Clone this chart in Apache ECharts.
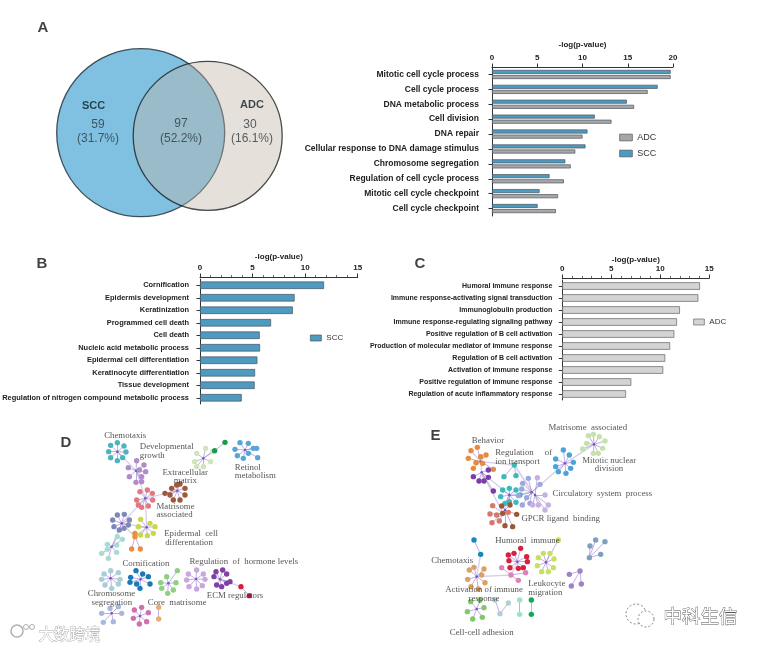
<!DOCTYPE html>
<html><head><meta charset="utf-8">
<style>html,body{margin:0;padding:0;background:#fff}#c{width:762px;height:649px;filter:blur(0.45px)}</style>
<script src="https://cdn.jsdelivr.net/npm/echarts@6/dist/echarts.min.js"></script>
</head><body><div id="c"></div>
<script>
// Panel A: bars
const categoriesA = ['Mitotic cell cycle process','Cell cycle process','DNA metabolic process','Cell division','DNA repair','Cellular response to DNA damage stimulus','Chromosome segregation','Regulation of cell cycle process','Mitotic cell cycle checkpoint','Cell cycle checkpoint'];
const sccA = [19.74,18.3,14.9,11.36,10.55,10.33,8.1,6.36,5.26,5.04];
const adcA = [19.74,17.2,15.7,13.2,10.0,9.2,8.7,7.94,7.3,7.06];
// Panel B
const categoriesB = ['Cornification','Epidermis development','Keratinization','Programmed cell death','Cell death','Nucleic acid metabolic process','Epidermal cell differentiation','Keratinocyte differentiation','Tissue development','Regulation of nitrogen compound metabolic process'];
const sccB = [11.8,9.0,8.83,6.76,5.68,5.71,5.46,5.24,5.2,3.97];
// Panel C
const categoriesC = ['Humoral immune response','Immune response-activating signal transduction','Immunoglobulin production','Immune response-regulating signaling pathway','Positive regulation of B cell activation','Production of molecular mediator of immune response','Regulation of B cell activation','Activation of immune response','Positive regulation of immune response','Regulation of acute inflammatory response'];
const adcC = [14.05,13.88,12.0,11.7,11.43,11.0,10.5,10.3,7.04,6.5];
// Venn
const vennCounts = ['59','97','30'];
const vennShares = ['(31.7%)','(52.2%)','(16.1%)'];
const vennSets = ['SCC','ADC'];

// Network D: layout readings, hub first
const chemotaxisD=[[352,95],[352,68],[332,76],[372,78],[326,95],[378,96],[332,113],[352,122],[368,113]];
const growthD=[[408,152],[410,122],[385,143],[432,135],[388,170],[408,187],[425,170],[437,155],[418,150],[425,185]];
const paleGreenD=[[610,115],[617,85],[590,100],[638,95],[584,125],[590,140],[610,140],[632,125]];
const retinolD=[[735,90],[720,68],[745,70],[705,88],[760,85],[712,107],[745,100],[730,115],[770,85],[773,113]];
const matrixD=[[532,212],[515,205],[540,192],[555,205],[555,225],[540,240],[520,240],[495,220],[510,225],[530,195]];
const matrisomeD=[[436,235],[420,215],[442,210],[457,220],[458,240],[445,258],[425,262],[410,240],[415,255]];
const slateD=[[365,310],[352,285],[373,283],[338,300],[342,320],[358,330],[385,315],[388,300],[372,325]];
const epidermalD=[[440,322],[422,298],[450,310],[465,320],[460,340],[442,347],[422,345],[415,320]];
const orangeD=[[405,350],[405,340],[395,387],[421,387]];
const paleTealD=[[335,380],[352,350],[367,358],[322,373],[350,375],[350,397],[322,388],[305,400],[325,415]];
const chromosomeD=[[332,475],[332,452],[312,462],[355,458],[305,478],[360,478],[315,495],[335,505],[355,492]];
const cornificationD=[[422,478],[408,452],[428,462],[392,472],[445,470],[390,487],[410,492],[450,492],[420,505]];
const greenD=[[505,490],[532,452],[500,470],[482,488],[528,488],[485,505],[503,520],[520,510]];
const lilacD=[[588,477],[590,450],[565,462],[610,462],[560,480],[615,478],[567,500],[590,507],[607,497]];
const hormoneD=[[660,478],[648,455],[668,450],[680,462],[642,470],[690,485],[650,495],[665,500],[680,490]];
const redD=[[723,500],[748,527]];
const periwinkleD=[[335,580],[330,565],[355,560],[305,580],[365,580],[310,607],[340,605]];
const magentaD=[[420,588],[425,562],[403,570],[445,578],[400,595],[418,612],[440,605]];
const sandD=[[476,562],[476,597]];
const darkGreenD=[[644,92],[675,67]];
const colorsD=['#4fb3bf','#b08cc8','#cfe3bd','#5aa5d8','#a0583a','#e07a80','#7f88b8','#c8d84a','#e89040','#a8dcd0','#a8cfd8','#1a7ab8','#8fd080','#c8a8e0','#8040a8','#d0203c','#a8b8e0','#d070b0','#e8b070','#1a9a50'];
const bridgesD=[[0,1],[1,5],[5,4],[5,6],[5,7],[6,7],[6,9],[7,8],[6,8],[2,19],[14,15]];
const labelsD=[['Chemotaxis',311,48],['Developmental',418,80],['growth',418,107],['Extracellular',486,157],['matrix',520,183],['Retinol',703,142],['metabolism',703,168],['Matrisome',468,259],['associated',468,285],['Epidermal  cell',491,341],['differentation',494,367],['Cornification',366,431],['Regulation  of  hormone levels',567,426],['Chromosome',262,520],['segregation',273,547],['Core  matrisome',442,548],['ECM regulators',619,528]];

// Network E
const matrisomeE=[[552,88],[535,62],[550,58],[568,65],[585,78],[530,85],[578,100],[550,115],[565,115],[518,102]];
const mitoticE=[[465,145],[460,105],[478,120],[437,132],[490,142],[437,155],[482,160],[445,170],[468,175]];
const behaviorE=[[212,140],[202,97],[183,107],[228,120],[175,130],[218,145],[190,160],[198,143],[212,125],[250,163]];
const violetE=[[215,172],[190,185],[235,165],[207,198],[235,187],[222,198],[250,228]];
const ionE=[[313,150],[282,185],[318,182]];
const tealE=[[298,240],[278,225],[298,220],[318,225],[272,245],[318,262],[298,260],[285,265],[330,240]];
const circulatoryE=[[365,232],[338,205],[355,190],[390,208],[325,242],[337,270],[360,265],[335,222],[350,248]];
const lilacE=[[375,240],[382,188],[405,240],[415,270],[385,270],[368,270],[405,285]];
const salmonE=[[280,295],[248,272],[240,297],[260,300],[246,323],[268,318],[295,292]];
const brownE=[[285,285],[275,273],[300,270],[320,298],[285,332],[308,335],[278,295]];
const chemoBlueE=[[212,418],[192,375]];
const humoralE=[[322,440],[312,415],[332,400],[295,420],[350,425],[297,437],[352,440],[300,458],[325,460],[340,458]];
const pinkE=[[303,480],[275,458],[347,473],[325,496]];
const leukocyteE=[[408,442],[400,415],[420,415],[385,428],[432,432],[382,452],[430,458],[395,470],[415,470],[445,375]];
const activationE=[[200,485],[192,457],[178,465],[222,462],[173,493],[225,503],[183,515],[205,522],[215,480]];
const adhesionE=[[200,582],[182,560],[210,555],[222,578],[172,590],[188,612],[217,607]];
const paleBlueE=[[270,596],[295,564],[255,555]];
const paleTealE=[[329,555],[329,598]];
const greenE=[[364,555],[364,598]];
const slateE=[[538,428],[540,393],[557,375],[585,380],[572,418]];
const lavenderE=[[510,468],[478,478],[484,513],[514,507]];
const colorsE=['#c4e2ae','#4ca3d8','#e88a3c','#7a3ca8','#3fb8b8','#3cb8c0','#9aa8e0','#c8b0e0','#d87868','#9a5a38','#1088c0','#d82040','#e080b8','#c8e060','#dca060','#80c868','#b0d0d8','#a0e0d0','#10a860','#7f9fc0','#a080c8'];
const bridgesE=[[0,1],[1,6],[2,3],[3,5],[2,4],[4,6],[4,7],[5,6],[5,8],[8,9],[6,7],[10,14],[14,12],[12,11],[3,8]];
const labelsE=[['Matrisome  associated',414,37],['Behavior',184,77],['Regulation     of',254,112],['ion transport',254,139],['Mitotic nuclear',515,136],['division',553,162],['Circulatory  system  process',426,236],['GPCR ligand  binding',333,312],['Humoral  immune',254,376],['Chemotaxis',62,437],['Leukocyte',353,505],['migration',353,532],['Activation of immune',104,523],['response',174,550],['Cell-cell adhesion',118,654]];

const clustersD=[chemotaxisD,growthD,paleGreenD,retinolD,matrixD,matrisomeD,slateD,epidermalD,orangeD,paleTealD,chromosomeD,cornificationD,greenD,lilacD,hormoneD,redD,periwinkleD,magentaD,sandD,darkGreenD];
const clustersE=[matrisomeE,mitoticE,behaviorE,violetE,ionE,tealE,circulatoryE,lilacE,salmonE,brownE,chemoBlueE,humoralE,pinkE,leukocyteE,activationE,adhesionE,paleBlueE,paleTealE,greenE,slateE,lavenderE];

function network(clusters,colors,bridges,axis){
  const data=[],links=[],hubs=[];
  clusters.forEach((pts,c)=>{
    const hub=data.length; hubs.push(hub);
    pts.forEach((p,i)=>{
      const isHub=i===0&&pts.length>5;
      data.push({value:p,symbolSize:isHub?2.5:5.4,itemStyle:{color:isHub?'#7a55b8':colors[c],opacity:1}});
      if(i>0)links.push({source:hub,target:hub+i,lineStyle:{color:'#9a80d4',width:0.7,opacity:.9}});
    });
  });
  bridges.forEach(b=>links.unshift({source:hubs[b[0]],target:hubs[b[1]],lineStyle:{color:'#d6d0ea',width:1.3,opacity:1}}));
  return {type:'graph',coordinateSystem:'cartesian2d',xAxisIndex:axis,yAxisIndex:axis,data,links,silent:true,animation:false,roam:false,label:{show:false},edgeSymbol:['none','none'],z:3};
}
function textMarks(rows,axis,font){
  return {type:'scatter',xAxisIndex:axis,yAxisIndex:axis,silent:true,animation:false,symbolSize:1,z:6,itemStyle:{color:'transparent'},
    data:rows.map(r=>({name:r[0],value:[r[1],r[2]]})),
    label:Object.assign({show:true,position:'right',distance:0,formatter:p=>p.name,color:'#222'},font)};
}
const hidden=(i,max,inv)=>({gridIndex:i,type:'value',show:false,min:0,max:max,inverse:!!inv,splitLine:{show:false}});
const serif={fontFamily:'Liberation Serif',fontSize:8.8,color:'#2a2a2a'};
const sans='Liberation Sans';
function xAx(g,max,interval,gap,minor,offset){
  return {gridIndex:g,type:'value',position:'top',min:0,max,interval,offset:offset||0,
    name:'-log(p-value)',nameLocation:'middle',nameGap:gap,nameTextStyle:{fontFamily:sans,fontSize:8,fontWeight:'bold',color:'#222'},
    axisLine:{show:true,lineStyle:{color:'#333',width:1}},axisTick:{show:true,length:3.5,lineStyle:{color:'#333',width:1}},
    minorTick:{show:minor,splitNumber:5,length:2,lineStyle:{color:'#444',width:.8}},
    axisLabel:{fontFamily:sans,fontSize:8,fontWeight:'bold',color:'#222',margin:5},splitLine:{show:false}};
}
function yAx(g,cats,margin,fs){
  return {gridIndex:g,type:'category',inverse:true,data:cats,
    axisLine:{show:true,onZero:false,lineStyle:{color:'#333',width:1}},axisTick:{show:true,length:3.5,alignWithLabel:true,lineStyle:{color:'#333',width:1}},
    axisLabel:{fontFamily:sans,fontSize:fs,fontWeight:'bold',color:'#222',margin,interval:0}};
}
const bar=(name,data,g,color,w,gap)=>({type:'bar',name,data,xAxisIndex:g,yAxisIndex:g,barWidth:w,barGap:gap,silent:true,animation:false,
  itemStyle:{color,borderColor:'#4d5560',borderWidth:.7}});

const vennMarks={type:'scatter',xAxisIndex:0,yAxisIndex:0,silent:true,animation:false,z:2,
  data:[
    {value:[140.7,132.7],symbolSize:168,itemStyle:{color:'#60b2d9',borderColor:'#1b2a33',borderWidth:1.3}},
    {value:[207.7,135.8],symbolSize:149,itemStyle:{color:'rgba(193,177,165,.5)',borderColor:'#1b2020',borderWidth:1.3}}
  ]};
const vennLabels=textMarks([[vennCounts[0],98,125],[vennShares[0],98,139],[vennCounts[1],181,124],[vennShares[1],181,139],[vennCounts[2],250,125],[vennShares[2],252,139]],0,{position:'inside',fontFamily:sans,fontSize:12,color:'#2d3a44'});
const vennNames=textMarks([[vennSets[0],93.5,105.5],[vennSets[1],252,105]],0,{position:'inside',fontFamily:sans,fontSize:11,fontWeight:'bold',color:'#12202a'});
const letters=textMarks([['A',37,28],['B',36,264],['C',414,264],['D',60,443],['E',430,436]],0,{fontFamily:sans,fontSize:15,fontWeight:'bold',color:'#111'});
const wm=(style,left,top)=>({type:'text',left,top,silent:true,z:20,style});

const grid=(left,top,width,height)=>({left,top,width,height,outerBoundsMode:'none',containLabel:false});
const chart=echarts.init(document.getElementById('c'),null,{renderer:'canvas'});
chart.setOption({
  backgroundColor:'#fff',animation:false,
  grid:[grid(0,0,762,649),grid(492,67,181,149),grid(200,279,157.7,125),grid(562.3,280,147,120),grid(0,420,310,229),grid(410,415,352,234)],
  xAxis:[hidden(0,762),xAx(1,20,5,18,false),xAx(2,15,5,16,true,2),xAx(3,15,5,14,true,2),hidden(4,930),hidden(5,1056)],
  yAxis:[hidden(0,649,true),yAx(1,categoriesA,13,8.5),yAx(2,categoriesB,11,7.45),yAx(3,categoriesC,10,7),hidden(4,687,true),hidden(5,702,true)],
  legend:[
    {icon:'rect',padding:0,left:619.3,top:133,orient:'vertical',itemWidth:12.7,itemHeight:6.7,itemGap:7,selectedMode:false,textStyle:{fontFamily:sans,fontSize:9,color:'#333'},
      data:[{name:'ADC',itemStyle:{color:'#a7a7a7',borderColor:'#555',borderWidth:.7}},{name:'SCC',itemStyle:{color:'#4f9ac0',borderColor:'#4d5560',borderWidth:.7}}]},
    {icon:'rect',padding:0,left:310,top:334,itemWidth:11,itemHeight:6,selectedMode:false,textStyle:{fontFamily:sans,fontSize:8,color:'#333'},
      data:[{name:'SCC',itemStyle:{color:'#4f9ac0',borderColor:'#4d5560',borderWidth:.7}}]},
    {icon:'rect',padding:0,left:693.3,top:318,itemWidth:10.7,itemHeight:6,selectedMode:false,textStyle:{fontFamily:sans,fontSize:8,color:'#333'},
      data:[{name:'ADC',itemStyle:{color:'#d4d4d4',borderColor:'#666',borderWidth:.7}}]}
  ],
  series:[
    vennMarks,vennLabels,vennNames,letters,
    bar('SCC',sccA,1,'#4f9ac0',4,'28%'),bar('ADC',adcA,1,'#a7a7a7',4,'28%'),
    bar('SCC',sccB,2,'#4f9ac0',7.5),
    Object.assign(bar('ADC',adcC,3,'#d4d4d4',7.5),{itemStyle:{color:'#d4d4d4',borderColor:'#666',borderWidth:.7}}),
    network(clustersD,colorsD,bridgesD,4),textMarks(labelsD,4,serif),
    network(clustersE,colorsE,bridgesE,5),textMarks(labelsE,5,serif)
  ],
  graphic:[
    wm({text:'大数跨境',font:'15.5px "Noto Sans CJK SC"',fill:'#fff',stroke:'#a8a8a8',lineWidth:.8},38,626),
    wm({text:'中科生信',font:'18.5px "Noto Sans CJK SC"',fill:'#fff',stroke:'#555',lineWidth:.8},663,606),
    {type:'circle',shape:{cx:17,cy:631,r:6},style:{fill:'none',stroke:'#b0b0b0',lineWidth:1.5},silent:true,z:20},
    {type:'circle',shape:{cx:26,cy:627,r:2.5},style:{fill:'none',stroke:'#b0b0b0',lineWidth:1},silent:true,z:20},
    {type:'circle',shape:{cx:32,cy:627,r:2.5},style:{fill:'none',stroke:'#b0b0b0',lineWidth:1},silent:true,z:20},
    {type:'circle',shape:{cx:636,cy:614,r:10},style:{fill:'none',stroke:'#666',lineWidth:.8,lineDash:[2,2]},silent:true,z:20},
    {type:'circle',shape:{cx:646,cy:619,r:8},style:{fill:'#fff',stroke:'#666',lineWidth:.8,lineDash:[2,2]},silent:true,z:20}
  ]
});
</script></body></html>
